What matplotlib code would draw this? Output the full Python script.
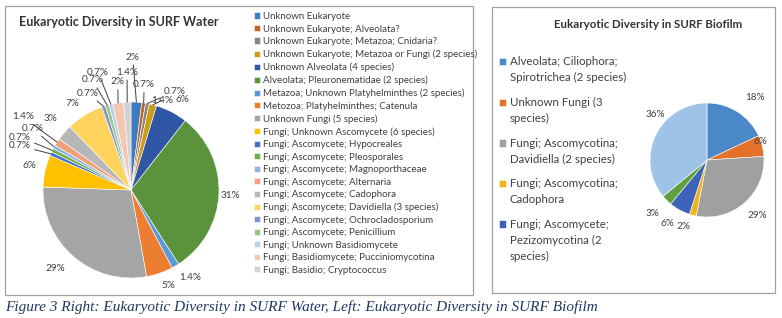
import matplotlib
matplotlib.use("Agg")
import matplotlib.pyplot as plt
import numpy as np
from matplotlib.patches import Rectangle
from matplotlib.legend_handler import HandlerPatch

# data
water_labels = [
    "Unknown Eukaryote",
    "Unknown Eukaryote; Alveolata?",
    "Unknown Eukaryote; Metazoa; Cnidaria?",
    "Unknown Eukaryote; Metazoa or Fungi (2 species)",
    "Unknown Alveolata (4 species)",
    "Alveolata; Pleuronematidae (2 species)",
    "Metazoa; Unknown Platyhelminthes (2 species)",
    "Metozoa; Platyhelminthes; Catenula",
    "Unknown Fungi (5 species)",
    "Fungi; Unknown Ascomycete (6 species)",
    "Fungi; Ascomycete; Hypocreales",
    "Fungi; Ascomycete; Pleosporales",
    "Fungi; Ascomycete; Magnoporthaceae",
    "Fungi; Ascomycete; Alternaria",
    "Fungi; Ascomycete; Cadophora",
    "Fungi; Ascomycete; Davidiella (3 species)",
    "Fungi; Ascomycete; Ochrocladosporium",
    "Fungi; Ascomycete; Penicillium",
    "Fungi; Unknown Basidiomycete",
    "Fungi; Basidiomycete; Pucciniomycotina",
    "Fungi; Basidio; Cryptococcus",
]
water_pct = [2, 0.7, 0.7, 1.4, 6, 31, 1.4, 5, 29, 6, 0.7, 0.7, 0.7, 1.4, 3, 7,
             0.7, 0.7, 0.7, 2, 1.4]

biofilm_labels = [
    "Alveolata; Ciliophora;\nSpirotrichea (2 species)",
    "Unknown Fungi (3\nspecies)",
    "Fungi; Ascomycotina;\nDavidiella (2 species)",
    "Fungi; Ascomycotina;\nCadophora",
    "Fungi; Ascomycete;\nPezizomycotina (2\nspecies)",
]
biofilm_pct = [18, 6, 29, 2, 6, 3, 36]

# styles
water_colors = [
    "#3E7CC1", "#C0622A", "#878787", "#CC9C18", "#2F57A5", "#5B923C",
    "#5B9BD5", "#ED7D31", "#A5A5A5", "#FFC000", "#4472C4", "#70AD47",
    "#8DB7E2", "#F1A07A", "#B7B7B7", "#FFD35C", "#7D94CE", "#9CC684",
    "#B9D1EC", "#F6C6B2", "#D2D2D2",
]
biofilm_colors = ["#4A88C8", "#E4712A", "#A0A0A0", "#F2B21A", "#3C63B8",
                  "#5EA03E", "#9FC2E7"]

# label placement in pie-radius units (layout only)
water_label_pos = [
    (0.02, 1.51), (0.15, 1.20), (0.50, 1.12), (0.36, 1.02), (0.58, 1.03),
    (1.13, -0.06), (0.67, -0.99), (0.42, -1.08), (-0.86, -0.89), (-1.15, 0.28),
    (-1.26, 0.50), (-1.26, 0.60), (-1.12, 0.70), (-1.23, 0.83), (-0.92, 0.81),
    (-0.67, 0.98), (-0.49, 1.10), (-0.44, 1.25), (-0.375, 1.34), (-0.15, 1.23),
    (-0.045, 1.34),
]
water_leaders = {0, 1, 2, 3, 10, 11, 12, 13, 16, 17, 18, 19, 20}
biofilm_label_pos = [(0.84, 1.09), (0.93, 0.32), (0.88, -0.98), (-0.42, -1.16),
                     (-0.70, -1.11), (-0.96, -0.93), (-0.91, 0.79)]

TEXT = "#404040"
FONT = "Lato"
W, H = 782, 318


def fig_box(x0, y0, x1, y1):
    # pixel box (top-left origin) -> figure fraction
    return [x0 / W, 1 - y1 / H, (x1 - x0) / W, (y1 - y0) / H]


def pct_text(v):
    return f"{v:g}%"


def pie_axes(fig, cx, cy, r, lim):
    side = 2 * lim * r
    ax = fig.add_axes(fig_box(cx - side / 2, cy - side / 2, cx + side / 2, cy + side / 2))
    ax.axis("off")
    return ax


def label_pie(ax, wedges, values, positions, leaders):
    for i, (w, v, (u, vv)) in enumerate(zip(wedges, values, positions)):
        mid = np.deg2rad((w.theta1 + w.theta2) / 2)
        edge = (np.cos(mid), np.sin(mid))
        if i in leaders:
            ax.annotate(pct_text(v), xy=edge, xytext=(u, vv), ha="center", va="center",
                        fontsize=7.2, color=TEXT, family=FONT,
                        arrowprops=dict(arrowstyle="-", color="#404040", lw=0.7,
                                        shrinkA=0.5, shrinkB=0))
        else:
            ax.text(u, vv, pct_text(v), ha="center", va="center",
                    fontsize=7.2, color=TEXT, family=FONT)


fig = plt.figure(figsize=(W / 100, H / 100), dpi=100)
fig.patch.set_facecolor("white")

# panel frames
for x0, y0, x1, y1 in [(5, 6, 473, 295), (492, 7, 775, 293)]:
    b = fig_box(x0, y0, x1, y1)
    fig.add_artist(Rectangle((b[0], b[1]), b[2], b[3], transform=fig.transFigure,
                             fill=False, edgecolor="#A0A0A0", lw=0.9))

# water pie
ax_w = pie_axes(fig, 131, 190, 88, 1.5)
wedges_w, _ = ax_w.pie(water_pct, colors=water_colors, startangle=90,
                       counterclock=False, radius=1,
                       wedgeprops=dict(edgecolor="white", linewidth=0.4))
ax_w.set_xlim(-1.5, 1.5)
ax_w.set_ylim(-1.5, 1.5)
label_pie(ax_w, wedges_w, water_pct, water_label_pos, water_leaders)

fig.text(118.5 / W, 1 - 22 / H, "Eukaryotic Diversity in SURF Water", ha="center",
         va="center", fontsize=9, fontweight="bold", color="#333333", family=FONT)

leg_w = fig.legend(wedges_w, water_labels, loc="upper left",
                   bbox_to_anchor=(254 / W, 1 - 12 / H), frameon=False,
                   handlelength=0.6, handleheight=0.6,
                   handletextpad=0.35, labelspacing=0.36, borderpad=0,
                   borderaxespad=0, prop={"family": FONT, "size": 7.0})
for t in leg_w.get_texts():
    t.set_color(TEXT)

# biofilm pie
ax_b = pie_axes(fig, 707, 160, 57, 1.6)
wedges_b, _ = ax_b.pie(biofilm_pct, colors=biofilm_colors, startangle=90,
                       counterclock=False, radius=1,
                       wedgeprops=dict(edgecolor="white", linewidth=0.4))
ax_b.set_xlim(-1.6, 1.6)
ax_b.set_ylim(-1.6, 1.6)
label_pie(ax_b, wedges_b, biofilm_pct, biofilm_label_pos, set())

fig.text(648 / W, 1 - 25 / H, "Eukaryotic Diversity in SURF Biofilm", ha="center",
         va="center", fontsize=8.3, fontweight="bold", color="#333333", family=FONT)

# right legend: square sits on the first line of each wrapped label
LINE_PT = 17 * 72 / 100


def top_square(n_lines):
    def make(legend, orig_handle, xdescent, ydescent, width, height, fontsize):
        shift = (n_lines - 1) / 2 * LINE_PT
        return Rectangle((-xdescent, -ydescent + shift), width, height)
    return make


handler_map = {w: HandlerPatch(patch_func=top_square(lab.count("\n") + 1))
               for w, lab in zip(wedges_b, biofilm_labels)}
leg_b = fig.legend(wedges_b[:len(biofilm_labels)], biofilm_labels, loc="upper left",
                   bbox_to_anchor=(499 / W, 1 - 56 / H), frameon=False,
                   handlelength=0.6, handleheight=0.6, handletextpad=0.35,
                   labelspacing=1.2, borderpad=0, borderaxespad=0,
                   handler_map=handler_map, prop={"family": FONT, "size": 8.3})
for t in leg_b.get_texts():
    t.set_color(TEXT)
    t.set_linespacing(1.54)

fig.text(5 / W, 1 - 307 / H,
         "Figure 3 Right: Eukaryotic Diversity in SURF Water, Left: Eukaryotic Diversity in SURF Biofilm",
         ha="left", va="center", fontsize=11, style="italic", color="#1F3864",
         family="Liberation Serif")

fig.savefig("out.png", dpi=100, facecolor="white")
